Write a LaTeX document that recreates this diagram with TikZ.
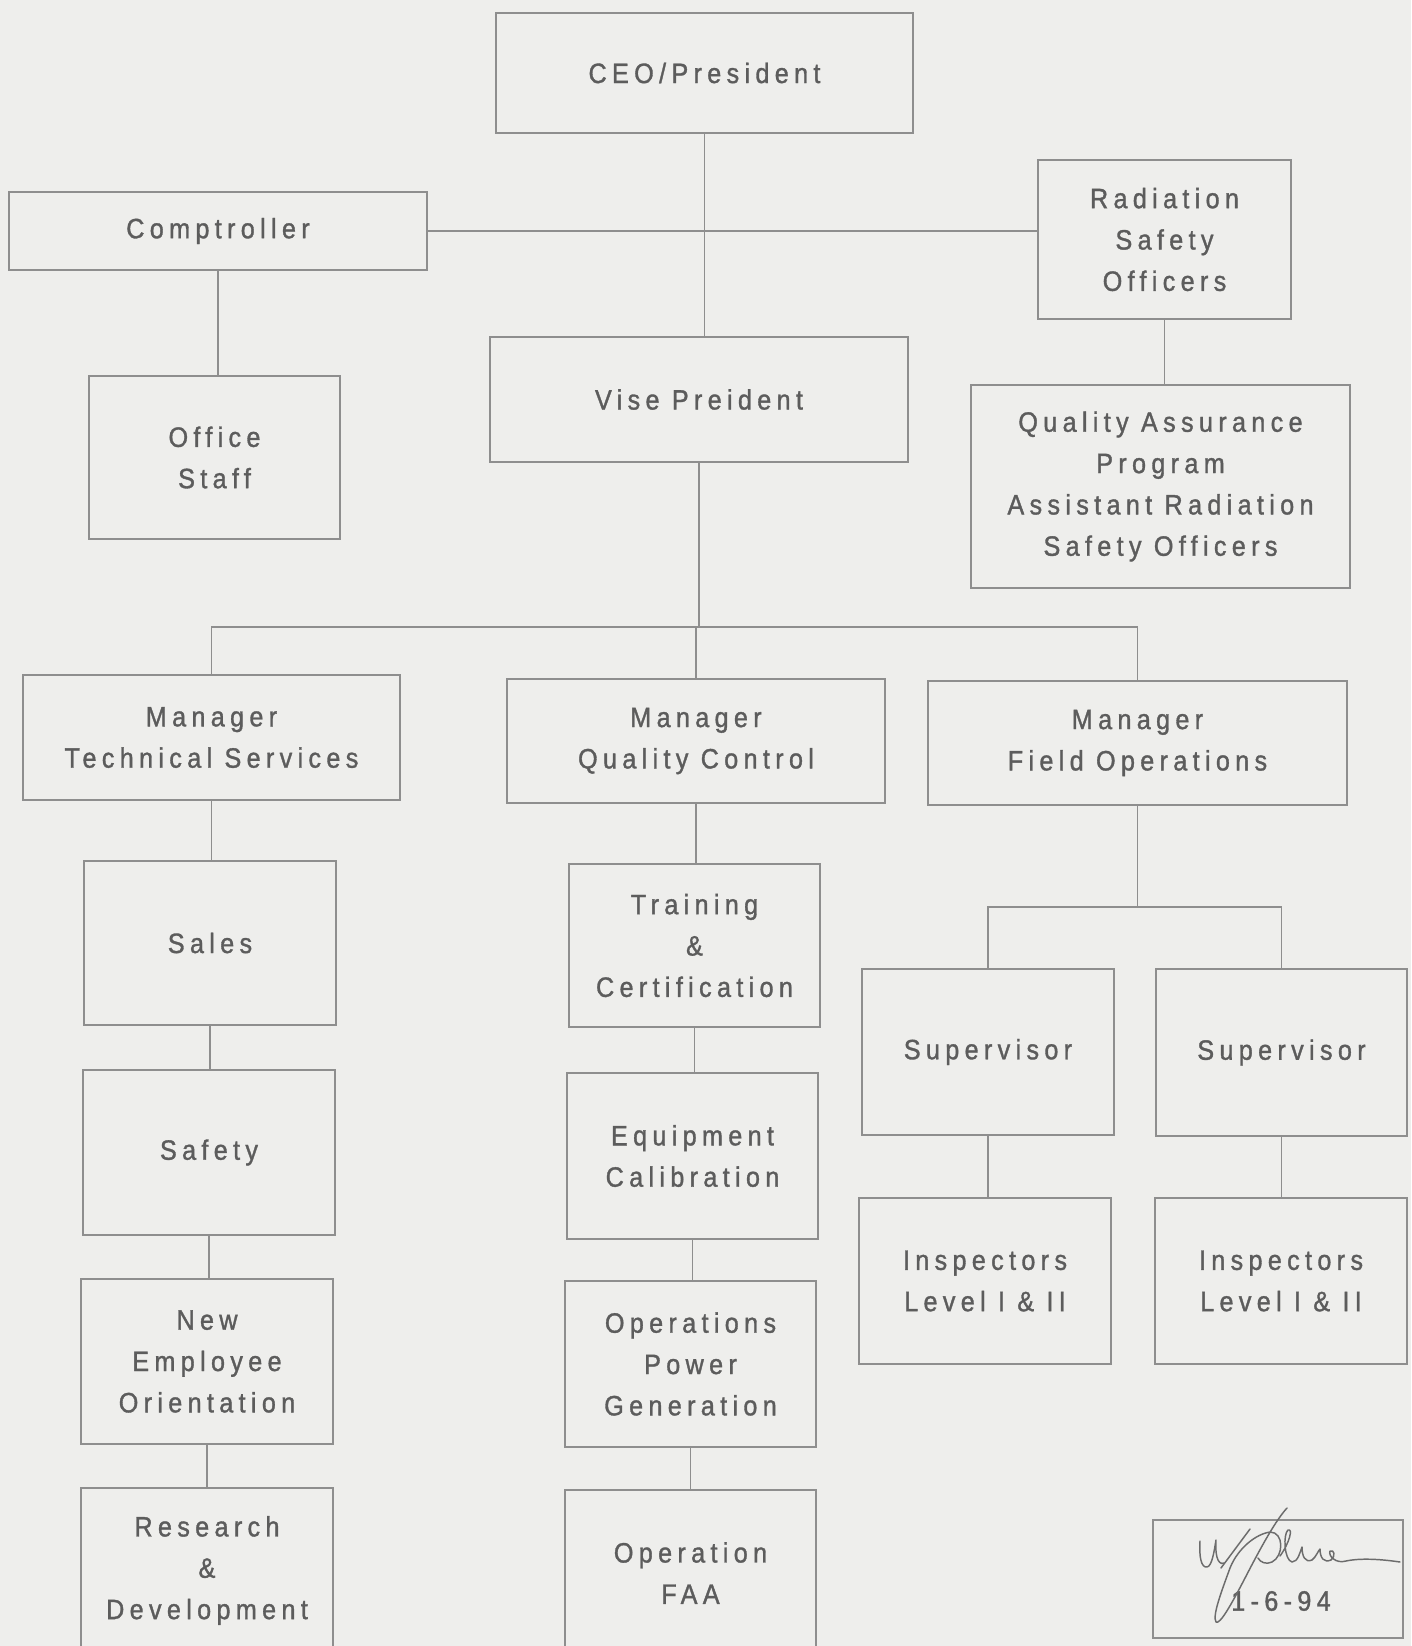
\documentclass[tikz,border=0pt]{standalone}
\usepackage{fontspec}
\newfontfamily\chartfont[LetterSpace=19,FakeStretch=0.9,FakeBold=1.2]{Liberation Sans}
\definecolor{paper}{HTML}{EEEEEC}
\definecolor{rule}{HTML}{8E8E8E}
\definecolor{ink}{HTML}{5C5C5C}

\tikzset{every picture/.style={line width=0.75pt}}
\tikzset{
  post/.style 2 args={draw=rule, line width=0.9pt, rectangle, minimum width=#1*0.75pt, minimum height=#2*0.75pt, inner sep=0pt, align=center, text=ink, font=\chartfont\fontsize{21}{31}\selectfont},
  tie/.style={draw=rule, line width=0.9pt},
  pen/.style={draw=ink!90, line width=1.1pt, line cap=round, line join=round}
}

\begin{document}
\begin{tikzpicture}[x=0.75pt,y=0.75pt,yscale=-1,xscale=1]
\useasboundingbox (0,0) rectangle (1411,1646);
\clip (0,0) rectangle (1411,1646);
\fill[paper] (0,0) rectangle (1411,1646);

%Shape: Rectangle -- top level
\node[post={417}{120}] (ceo) at (704.5,73) {CEO/President};
\node[post={418}{78}] (comp) at (218,231) {Comptroller};
\node[post={253}{159}] (rso) at (1164.5,239.5) {Radiation\\Safety\\Officers};
\node[post={251}{163}] (office) at (214.5,457.5) {Office\\Staff};
\node[post={418}{125}] (vp) at (699,399.5) {Vise Preident};
\node[post={379}{203}] (qa) at (1160.5,486.5) {Quality Assurance\\Program\\Assistant Radiation\\Safety Officers};

%Shape: Rectangle -- managers
\node[post={377}{125}] (mts) at (211.5,737.5) {Manager\\Technical Services};
\node[post={378}{124}] (mqc) at (696,741) {Manager\\Quality Control};
\node[post={419}{124}] (mfo) at (1137.5,743) {Manager\\Field Operations};

%Shape: Rectangle -- technical services
\node[post={252}{164}] (sales) at (210,943) {Sales};
\node[post={252}{165}] (safety) at (209,1152.5) {Safety};
\node[post={252}{165}] (neo) at (207,1361.5) {New\\Employee\\Orientation};
\node[post={252}{165}] (rd) at (207,1570.5) {Research\\\&\\Development};

%Shape: Rectangle -- quality control
\node[post={251}{163}] (tc) at (694.5,945.5) {Training\\\&\\Certification};
\node[post={251}{166}] (ec) at (692.5,1156) {Equipment\\Calibration};
\node[post={251}{166}] (opg) at (690.5,1364) {Operations\\Power\\Generation};
\node[post={251}{166}] (faa) at (690.5,1573) {Operation\\FAA};

%Shape: Rectangle -- field operations
\node[post={252}{166}] (supa) at (988,1052) {Supervisor};
\node[post={251}{167}] (supb) at (1281.5,1052.5) {Supervisor};
\node[post={252}{166}] (inspa) at (985,1281) {Inspectors\\Level I \& II};
\node[post={252}{166}] (inspb) at (1281,1281) {Inspectors\\Level I \& II};

%Shape: Rectangle -- sign off
\node[post={250}{118}] (sig) at (1278,1579) {};
\node[text=ink, font=\chartfont\fontsize{21}{31}\selectfont] (date) at (1281,1601) {1-6-94};

%Straight Lines -- bus points
\coordinate (bus) at (698,627);
\coordinate (fbus) at (1137.5,907);

%Straight Lines
\draw[tie] (ceo.south) -- (ceo.south |- vp.north);
\draw[tie] (comp.east) -- (comp.east -| rso.west);
\draw[tie] (comp.south) -- (comp.south |- office.north);
\draw[tie] (rso.south) -- (rso.south |- qa.north);
\draw[tie] (vp.south) -- (vp.south |- bus);
\draw[tie] (mts.north) |- (bus) -| (mfo.north);
\draw[tie] (mqc.north) -- (mqc.north |- bus);

\draw[tie] (mts.south) -- (mts.south |- sales.north);
\draw[tie] (sales.south) -- (sales.south |- safety.north);
\draw[tie] (safety.south) -- (safety.south |- neo.north);
\draw[tie] (neo.south) -- (neo.south |- rd.north);

\draw[tie] (mqc.south) -- (mqc.south |- tc.north);
\draw[tie] (tc.south) -- (tc.south |- ec.north);
\draw[tie] (ec.south) -- (ec.south |- opg.north);
\draw[tie] (opg.south) -- (opg.south |- faa.north);

\draw[tie] (mfo.south) -- (fbus);
\draw[tie] (supa.north) |- (fbus) -| (supb.north);
\draw[tie] (supa.south) -- (supa.south |- inspa.north);
\draw[tie] (supb.south) -- (supb.south |- inspb.north);

%Shape: Free Drawing -- signature
\draw[pen] (1200,1541) .. controls (1199,1556) and (1201,1568) .. (1207,1567) .. controls (1212,1566) and (1214,1552) .. (1216,1540) .. controls (1215,1552) and (1217,1566) .. (1224,1563);
\draw[pen] (1221,1568) -- (1250,1529);
\draw[pen] (1287,1508) .. controls (1276,1520) and (1262,1545) .. (1244,1580) .. controls (1232,1603) and (1220,1625) .. (1216,1622) .. controls (1212,1616) and (1222,1590) .. (1230,1568) .. controls (1238,1548) and (1256,1534) .. (1270,1532) .. controls (1284,1532) and (1284,1556) .. (1272,1562) .. controls (1266,1565) and (1260,1562) .. (1258,1558);
\draw[pen] (1280,1556) .. controls (1290,1542) and (1293,1528) .. (1288,1530) .. controls (1283,1534) and (1284,1560) .. (1292,1562) .. controls (1298,1562) and (1300,1552) .. (1302,1547) .. controls (1302,1556) and (1305,1563) .. (1312,1560) .. controls (1316,1557) and (1318,1551) .. (1320,1549) .. controls (1320,1558) and (1324,1563) .. (1331,1560) .. controls (1336,1556) and (1334,1549) .. (1330,1551) .. controls (1328,1556) and (1336,1564) .. (1346,1561) .. controls (1360,1558) and (1380,1559) .. (1400,1562);

\end{tikzpicture}
\end{document}
